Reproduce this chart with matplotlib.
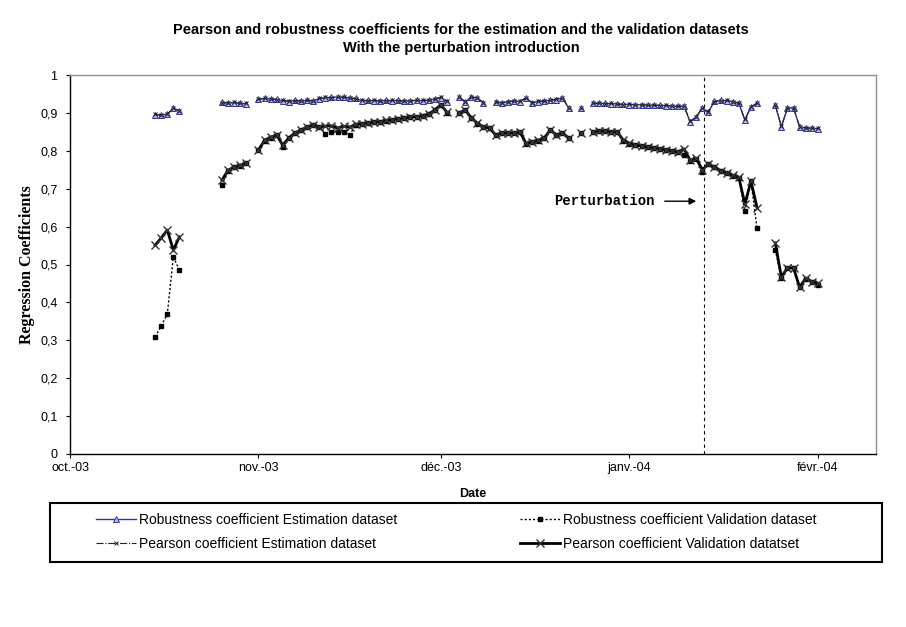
import numpy as np
import pandas as pd
import matplotlib
matplotlib.use("Agg")
import matplotlib.pyplot as plt
from matplotlib.patches import Rectangle

nan = np.nan

# ---------------- data (daily values from 15 Oct 2003 to 1 Feb 2004) ----------------
start_date = "2003-10-15"

robust_estimation = [
    0.895, 0.895, 0.896, 0.913, 0.905,                      # 15-19 Oct
    nan, nan, nan, nan, nan, nan,                           # 20-25 Oct
    0.928, 0.926, 0.927, 0.925, 0.924,                      # 26-30 Oct
    nan,                                                    # 31 Oct
    0.937, 0.938, 0.937, 0.936, 0.932, 0.930, 0.933, 0.931, 0.933, 0.932,   # 1-10 Nov
    0.937, 0.940, 0.941, 0.942, 0.941, 0.940, 0.938, 0.932, 0.933, 0.932,   # 11-20 Nov
    0.931, 0.933, 0.932, 0.933, 0.931, 0.932, 0.933, 0.932, 0.934, 0.937,   # 21-30 Nov
    0.940, 0.930, nan, 0.942, 0.929, 0.942, 0.940, 0.926, nan,              # 1-9 Dec
    0.929, 0.926, 0.930, 0.931, 0.930, 0.940, 0.926, 0.930, 0.932, 0.933,   # 10-19 Dec
    0.935, 0.940, 0.913, nan, 0.912, nan,                                   # 20-25 Dec
    0.926, 0.925, 0.925, 0.924, 0.924, 0.923, 0.922, 0.922, 0.921, 0.921,   # 26 Dec-4 Jan
    0.920, 0.920, 0.919, 0.918, 0.918, 0.917, 0.876, 0.889, 0.913, 0.902,   # 5-14 Jan
    0.931, 0.933, 0.932, 0.930, 0.926, 0.881, 0.916, 0.926,                 # 15-22 Jan
    nan, nan,                                                               # 23-24 Jan
    0.921, 0.863, 0.913, 0.913, 0.863, 0.860, 0.860, 0.858,                 # 25 Jan-1 Feb
]

pearson_estimation = [
    0.896, 0.894, 0.897, 0.912, 0.906,
    nan, nan, nan, nan, nan, nan,
    0.927, 0.926, 0.928, 0.925, 0.925,
    nan,
    0.936, 0.938, 0.936, 0.935, 0.933, 0.931, 0.932, 0.932, 0.934, 0.931,
    0.938, 0.941, 0.940, 0.941, 0.942, 0.939, 0.937, 0.933, 0.932, 0.933,
    0.932, 0.932, 0.933, 0.932, 0.932, 0.931, 0.934, 0.933, 0.933, 0.936,
    0.941, 0.931, nan, 0.941, 0.930, 0.941, 0.939, 0.927, nan,
    0.930, 0.927, 0.929, 0.932, 0.931, 0.939, 0.927, 0.931, 0.931, 0.934,
    0.936, 0.939, 0.914, nan, 0.913, nan,
    0.925, 0.926, 0.924, 0.925, 0.923, 0.922, 0.923, 0.921, 0.922, 0.920,
    0.921, 0.919, 0.920, 0.917, 0.917, 0.918, 0.878, 0.890, 0.912, 0.903,
    0.930, 0.932, 0.933, 0.929, 0.925, 0.883, 0.915, 0.925,
    nan, nan,
    0.920, 0.865, 0.912, 0.914, 0.864, 0.861, 0.859, 0.859,
]

robust_validation = [
    0.309, 0.338, 0.369, 0.520, 0.485,
    nan, nan, nan, nan, nan, nan,
    0.710, 0.747, 0.756, 0.761, 0.767,
    nan,
    0.801, 0.827, 0.835, 0.841, 0.810, 0.833, 0.846, 0.854, 0.862, 0.867,
    0.862, 0.845, 0.850, 0.850, 0.850, 0.842, 0.869, 0.871, 0.873, 0.875,
    0.876, 0.879, 0.881, 0.884, 0.886, 0.888, 0.889, 0.892, 0.896, 0.907,
    0.920, 0.901, nan, 0.899, 0.907, 0.886, 0.872, 0.862, 0.859,
    0.841, 0.846, 0.846, 0.846, 0.849, 0.819, 0.822, 0.827, 0.833, 0.854,
    0.841, 0.846, 0.833, nan, 0.846, nan,
    0.849, 0.851, 0.851, 0.849, 0.849, 0.827, 0.819, 0.814, 0.812, 0.809,
    0.807, 0.805, 0.802, 0.799, 0.796, 0.790, 0.774, 0.779, 0.744, 0.764,
    0.756, 0.747, 0.741, 0.734, 0.729, 0.640, 0.719, 0.595,
    nan, nan,
    0.538, 0.464, 0.490, 0.490, 0.440, 0.463, 0.454, 0.446,
]

pearson_validation = [
    0.551, 0.570, 0.591, 0.538, 0.573,
    nan, nan, nan, nan, nan, nan,
    0.723, 0.749, 0.757, 0.762, 0.768,
    nan,
    0.802, 0.828, 0.836, 0.842, 0.815, 0.834, 0.847, 0.855, 0.863, 0.868,
    0.863, 0.865, 0.866, 0.860, 0.865, 0.862, 0.870, 0.872, 0.874, 0.876,
    0.877, 0.880, 0.882, 0.885, 0.887, 0.889, 0.890, 0.893, 0.897, 0.908,
    0.921, 0.902, nan, 0.900, 0.908, 0.887, 0.873, 0.863, 0.860,
    0.842, 0.847, 0.847, 0.847, 0.850, 0.820, 0.823, 0.828, 0.834, 0.855,
    0.842, 0.847, 0.834, nan, 0.847, nan,
    0.850, 0.852, 0.852, 0.850, 0.850, 0.828, 0.820, 0.815, 0.813, 0.810,
    0.808, 0.806, 0.803, 0.800, 0.797, 0.805, 0.775, 0.780, 0.750, 0.765,
    0.757, 0.748, 0.742, 0.735, 0.730, 0.660, 0.720, 0.650,
    nan, nan,
    0.557, 0.467, 0.491, 0.491, 0.440, 0.464, 0.455, 0.451,
]

month_ticks = ["2003-10-01", "2003-11-01", "2003-12-01", "2004-01-01", "2004-02-01"]
month_labels = ["oct.-03", "nov.-03", "déc.-03", "janv.-04", "févr.-04"]
y_ticks = [0, 0.1, 0.2, 0.3, 0.4, 0.5, 0.6, 0.7, 0.8, 0.9, 1.0]
y_labels = ["0", "0,1", "0,2", "0,3", "0,4", "0,5", "0,6", "0,7", "0,8", "0,9", "1"]
perturbation_date = "2004-01-13 07:00"

legend_labels = [
    "Robustness coefficient Estimation dataset",
    "Pearson coefficient Estimation dataset",
    "Robustness coefficient Validation dataset",
    "Pearson coefficient Validation datatset",
]

# ---------------- figure ----------------
plt.rcParams["font.family"] = ["Liberation Sans", "DejaVu Sans"]

dates = pd.date_range(start_date, periods=len(pearson_validation), freq="D")

fig = plt.figure(figsize=(9.06, 6.27), dpi=100)
ax = fig.add_axes([70 / 906, 1 - 454 / 627, (876 - 70) / 906, (454 - 75) / 627])

blue = "#333399"
l_re, = ax.plot(dates, robust_estimation, color=blue, lw=1.0, marker="^", ms=4,
                mfc="#b8bce8", mec=blue, mew=0.7, zorder=3)
l_pe, = ax.plot(dates, pearson_estimation, color="#222222", lw=0.8, ls="-.", marker="x",
                ms=3.5, mew=0.7, zorder=4)
l_rv, = ax.plot(dates, robust_validation, color="black", lw=1.0, ls=(0, (1.5, 1.5)),
                marker="s", ms=2.8, zorder=3)
l_pv, = ax.plot(dates, pearson_validation, color="black", lw=2.0, marker="x", ms=6,
                mew=1.0, mec="#333333", zorder=5)

ax.axvline(pd.Timestamp(perturbation_date), color="black", lw=0.8, ls=(0, (3, 3)), zorder=2)

origin = pd.Timestamp("2003-10-01")
px_per_day = 6.08
def px_to_date(px):
    return origin + pd.Timedelta(days=(px - 70) / px_per_day)

ax.text(px_to_date(655), 0.667, "Perturbation", ha="right", va="center",
        family=["Liberation Mono"], fontweight="bold", fontsize=10)
ax.annotate("", xy=(px_to_date(699), 0.667), xytext=(px_to_date(662), 0.667),
            arrowprops=dict(arrowstyle="-|>", color="black", lw=1.0, mutation_scale=10))

ax.set_xlim(origin, px_to_date(876))
ax.set_ylim(0, 1)
ax.set_xticks(pd.to_datetime(month_ticks))
ax.set_xticklabels(month_labels, fontsize=9)
ax.set_yticks(y_ticks)
ax.set_yticklabels(y_labels, fontsize=9)
ax.tick_params(axis="both", direction="out", length=3, width=0.8, pad=3)
ax.tick_params(axis="y", pad=6)
for s in ["left", "bottom"]:
    ax.spines[s].set_color("black")
    ax.spines[s].set_linewidth(1.0)
for s in ["top", "right"]:
    ax.spines[s].set_color("#909090")
    ax.spines[s].set_linewidth(1.0)

ax.set_xlabel("Date", fontweight="bold", fontsize=9, labelpad=10)
ax.set_ylabel("Regression Coefficients", family=["Liberation Serif"], fontweight="bold",
              fontsize=11.5, labelpad=4)

fig.text(461 / 906, 1 - 30 / 627, "Pearson and robustness coefficients for the estimation and the validation datasets",
         ha="center", va="center", fontweight="bold", fontsize=10.5)
fig.text(461 / 906, 1 - 48 / 627, "With the perturbation introduction",
         ha="center", va="center", fontweight="bold", fontsize=10.5)

# legend box
fig.patches.append(Rectangle((50 / 906, 1 - 562 / 627), 832 / 906, 59 / 627,
                             transform=fig.transFigure, fill=False, edgecolor="black", lw=1.5))
leg = fig.legend([l_re, l_pe, l_rv, l_pv], legend_labels, ncol=2, frameon=False,
                 loc="center left", bbox_to_anchor=(83 / 906, 1 - 532 / 627),
                 fontsize=10, handlelength=2.9, columnspacing=8.85, labelspacing=0.75,
                 handletextpad=0.2)

fig.savefig("out.png", dpi=100)
